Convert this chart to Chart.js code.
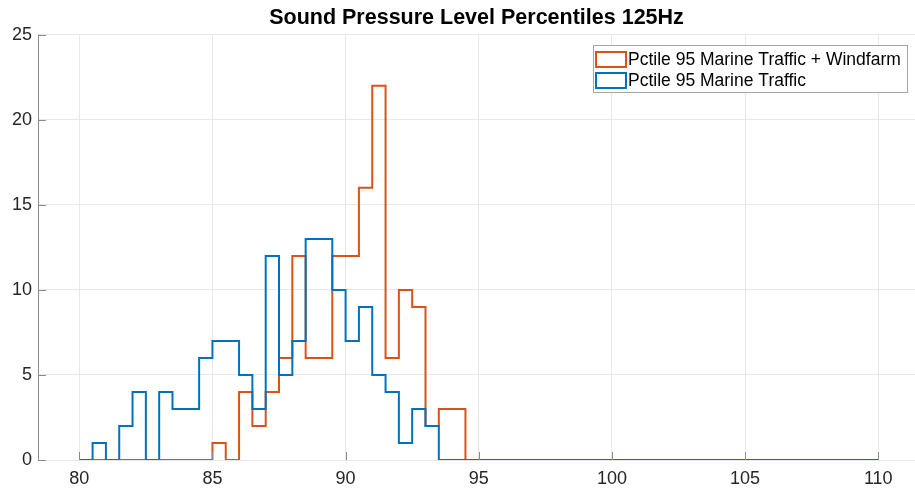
<!DOCTYPE html>
<html lang="en">
<head>
  <meta charset="UTF-8">
  <title>Sound Pressure Level Percentiles 125Hz</title>
  <script src="https://cdn.jsdelivr.net/npm/chart.js"></script>
  <style>
    html, body {
      margin: 0;
      padding: 0;
      background: #fff;
    }
    #wrap {
      width: 915px;
      height: 491px;
    }
  </style>
</head>
<body>
  <div id="wrap"><canvas id="splChart"></canvas></div>

  <script>
    // histogram bins: 0.5 dB wide, from 80 to 110 dB
    const binStart = 80;
    const binWidth = 0.5;
    const windfarmCounts = [
      0, 0, 0, 0, 0, 0, 0, 0, 0, 0,
      1, 0, 4, 2, 4, 6, 12, 6, 6, 12,
      12, 16, 22, 6, 10, 9, 2, 3, 3, 0,
      0, 0, 0, 0, 0, 0, 0, 0, 0, 0,
      0, 0, 0, 0, 0, 0, 0, 0, 0, 0,
      0, 0, 0, 0, 0, 0, 0, 0, 0, 0
    ];
    const trafficCounts = [
      0, 1, 0, 2, 4, 0, 4, 3, 3, 6,
      7, 7, 5, 3, 12, 5, 7, 13, 13, 10,
      7, 9, 5, 4, 1, 3, 2, 0, 0, 0,
      0, 0, 0, 0, 0, 0, 0, 0, 0, 0,
      0, 0, 0, 0, 0, 0, 0, 0, 0, 0,
      0, 0, 0, 0, 0, 0, 0, 0, 0, 0
    ];
    const xTicks = [80, 85, 90, 95, 100, 105, 110];
    const yTicks = [0, 5, 10, 15, 20, 25];
    const seriesLabels = ['Pctile 95 Marine Traffic + Windfarm', 'Pctile 95 Marine Traffic'];

    const FONT = '"Liberation Sans", Arial, sans-serif';

    // stairs outline: one point per left bin edge, plus the closing right edge
    function stairs(counts) {
      const pts = counts.map((c, i) => ({ x: binStart + i * binWidth, y: c }));
      pts.push({ x: binStart + counts.length * binWidth, y: counts[counts.length - 1] });
      return pts;
    }

    // inward tick marks + left axis line, like matlab
    const axisPlugin = {
      id: 'axisMarks',
      afterDatasetsDraw(chart) {
        const { ctx, chartArea: a, scales: { x, y } } = chart;
        ctx.save();
        ctx.strokeStyle = '#8a8a8a';
        ctx.lineWidth = 1;
        ctx.beginPath();
        ctx.moveTo(a.left + 0.5, a.top);
        ctx.lineTo(a.left + 0.5, a.bottom);
        yTicks.forEach(v => {
          const py = Math.round(y.getPixelForValue(v)) + 0.5;
          ctx.moveTo(a.left, py);
          ctx.lineTo(a.left + 8, py);
        });
        xTicks.forEach(v => {
          const px = Math.round(x.getPixelForValue(v)) + 0.5;
          ctx.moveTo(px, a.bottom);
          ctx.lineTo(px, a.bottom - 8);
        });
        ctx.stroke();
        ctx.restore();
      }
    };

    const legendPlugin = {
      id: 'boxLegend',
      afterDraw(chart) {
        const ctx = chart.ctx;
        const left = 593, top = 45, w = 314, h = 47;
        ctx.save();
        ctx.fillStyle = '#fff';
        ctx.fillRect(left, top, w, h);
        ctx.strokeStyle = '#a6a6a6';
        ctx.lineWidth = 1;
        ctx.strokeRect(left + 0.5, top + 0.5, w, h);
        ctx.font = '17.5px ' + FONT;
        ctx.textBaseline = 'middle';
        chart.data.datasets.forEach((ds, i) => {
          const cy = top + 14 + i * 21;
          ctx.strokeStyle = ds.borderColor;
          ctx.lineWidth = 2;
          ctx.strokeRect(left + 3, cy - 7, 30, 15);
          ctx.fillStyle = '#000';
          ctx.fillText(ds.label, left + 35, cy + 1);
        });
        ctx.restore();
      }
    };

    window.addEventListener('DOMContentLoaded', () => {
      const ctx = document.getElementById('splChart').getContext('2d');
      new Chart(ctx, {
        type: 'line',
        data: {
          datasets: [
            {
              label: seriesLabels[0],
              data: stairs(windfarmCounts),
              borderColor: '#D95319',
              borderWidth: 2,
              stepped: true,
              pointRadius: 0,
              fill: false,
              order: 1
            },
            {
              label: seriesLabels[1],
              data: stairs(trafficCounts),
              borderColor: '#0072BD',
              borderWidth: 2,
              stepped: true,
              pointRadius: 0,
              fill: false,
              order: 0
            }
          ]
        },
        options: {
          responsive: true,
          maintainAspectRatio: false,
          animation: false,
          layout: { padding: { left: 0, right: 0, top: 0, bottom: 0 } },
          plugins: {
            legend: { display: false },
            tooltip: { enabled: false },
            title: {
              display: true,
              fullSize: false,
              text: 'Sound Pressure Level Percentiles 125Hz',
              color: '#000',
              font: { family: FONT, size: 21.5, weight: 'bold' },
              padding: { top: 5, bottom: 4 }
            }
          },
          scales: {
            x: {
              type: 'linear',
              min: 78.45,
              max: 111.38,
              afterBuildTicks: s => { s.ticks = xTicks.map(v => ({ value: v })); },
              afterFit: s => { s.height = 31; },
              grid: { color: '#e8e8e8', drawTicks: false },
              border: { display: true, color: '#e8e8e8' },
              ticks: { color: '#262626', padding: 8, maxRotation: 0, font: { family: FONT, size: 18 } }
            },
            y: {
              min: 0,
              max: 25,
              afterBuildTicks: s => { s.ticks = yTicks.map(v => ({ value: v })); },
              afterFit: s => { s.width = 38; },
              grid: { color: '#e8e8e8', drawTicks: false },
              border: { display: false },
              ticks: { color: '#262626', padding: 6, font: { family: FONT, size: 18 } }
            }
          }
        },
        plugins: [axisPlugin, legendPlugin]
      });
    });
  </script>
</body>
</html>
